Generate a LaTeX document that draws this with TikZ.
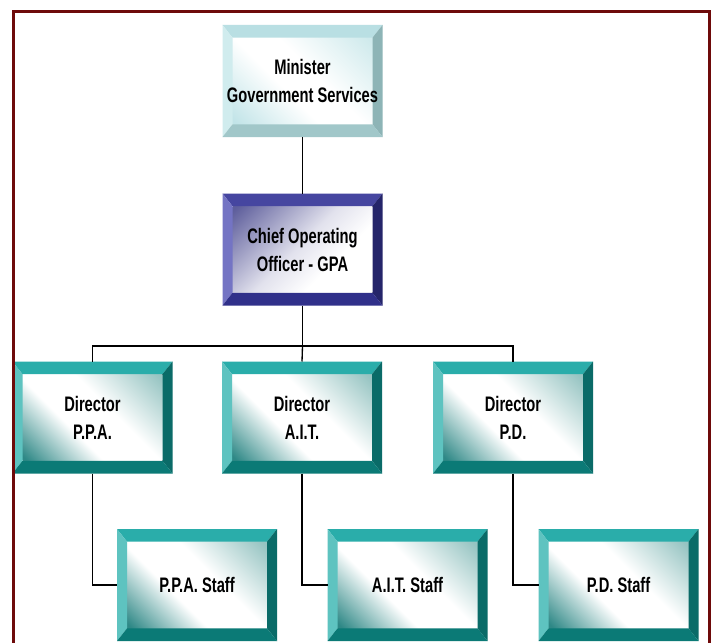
\documentclass[tikz,border=0pt]{standalone}
\usepackage{fontspec}
\newfontfamily\boxfont[FakeStretch=0.70]{Liberation Sans}
\definecolor{frame}{HTML}{6E0A0A}
% teal
\definecolor{tT}{HTML}{2AADAA}
\definecolor{tL}{HTML}{5EC3C0}
\definecolor{tR}{HTML}{0A6B68}
\definecolor{tB}{HTML}{0B7A76}
\definecolor{tD}{HTML}{2E8886}
\definecolor{tF}{HTML}{96C4C2}
% minister
\definecolor{mT}{HTML}{B9DFE3}
\definecolor{mL}{HTML}{D0ECEE}
\definecolor{mR}{HTML}{8DB4B6}
\definecolor{mB}{HTML}{A1C7C9}
\definecolor{mD}{HTML}{C2E4E8}
\definecolor{mF}{HTML}{CFEAEC}
% coo
\definecolor{cT}{HTML}{4646A0}
\definecolor{cL}{HTML}{7474C4}
\definecolor{cR}{HTML}{25256A}
\definecolor{cB}{HTML}{30308A}
\definecolor{cD}{HTML}{5E5E9C}
\pgfdeclarehorizontalshading{tealface}{100bp}{color(0bp)=(tD); color(16bp)=(tD); color(40bp)=(white); color(58bp)=(white); color(84bp)=(tF); color(100bp)=(tF)}
\pgfdeclarehorizontalshading{minface}{100bp}{color(0bp)=(mD); color(16bp)=(mD); color(42bp)=(white); color(56bp)=(white); color(84bp)=(mF); color(100bp)=(mF)}
\pgfdeclarehorizontalshading{cooface}{100bp}{color(0bp)=(cD); color(16bp)=(cD); color(48bp)=(white!82!cD); color(64bp)=(white); color(100bp)=(white)}
\newcommand\drawbevel[5]{%
  \path (path picture bounding box.south west) coordinate (o1)
        ([shift={(7.5pt,9.5pt)}]path picture bounding box.south west) coordinate (i1)
        (path picture bounding box.north east) coordinate (o3)
        ([shift={(-7.5pt,-9.5pt)}]path picture bounding box.north east) coordinate (i3);
  \fill[#5] (i1) rectangle (i3);
  \fill[#1] (o1|-o3) -- (o3) -- (i3) -- (i1|-i3) -- cycle;
  \fill[#2] (o1) -- (o1|-o3) -- (i1|-i3) -- (i1) -- cycle;
  \fill[#3] (o3) -- (o3|-o1) -- (i3|-i1) -- (i3) -- cycle;
  \fill[#4] (o3|-o1) -- (o1) -- (i1) -- (i3|-i1) -- cycle;
}
\tikzset{
  boxbase/.style={minimum width=120pt, minimum height=84pt, inner sep=0pt, outer sep=0pt,
    align=center, font=\boxfont\bfseries\fontsize{15.75pt}{21pt}\selectfont},
  tealbox/.style={boxbase, path picture={\drawbevel{tT}{tL}{tR}{tB}{shading=tealface, shading angle=45}}},
  minbox/.style={boxbase, path picture={\drawbevel{mT}{mL}{mR}{mB}{shading=minface, shading angle=45}}},
  coobox/.style={boxbase, path picture={\drawbevel{cT}{cL}{cR}{cB}{shading=cooface, shading angle=-45}}},
  conn/.style={draw=black, line width=1pt},
  framestyle/.style={draw=frame, line width=2.25pt}
}
\begin{document}
\begin{tikzpicture}[x=0.75pt,y=-0.75pt]
\useasboundingbox[fill=white] (0,0) rectangle (712,642);
\node[minbox] (min) at (302.5,81) {Minister\\Government Services};
\node[coobox] (coo) at (302.5,249.5) {Chief Operating\\Officer - GPA};
\node[tealbox] (d1) at (92.5,417.5) {Director\\P.P.A.};
\node[tealbox] (d2) at (302,417.5) {Director\\A.I.T.};
\node[tealbox] (d3) at (513,417.5) {Director\\P.D.};
\node[tealbox] (s1) at (197,585) {P.P.A. Staff};
\node[tealbox] (s2) at (407.5,585) {A.I.T. Staff};
\node[tealbox] (s3) at (618.5,585) {P.D. Staff};
\coordinate (bus) at (302.5,346);
\draw[conn] (min.south) -- (coo.north);
\draw[conn] (coo.south) -- (bus);
\draw[conn] (d1.north) |- (bus) -| (d3.north);
\draw[conn] (bus) -- (d2.north);
\draw[conn] (d1.south) |- (s1.west);
\draw[conn] (d2.south) |- (s2.west);
\draw[conn] (d3.south) |- (s3.west);
\coordinate (fbl) at (13,660);
\coordinate (ftl) at (13,12);
\coordinate (ftr) at (709,12);
\coordinate (fbr) at (709,660);
\draw[framestyle] (fbl) -- (ftl) -- (ftr) -- (fbr);
\end{tikzpicture}
\end{document}
